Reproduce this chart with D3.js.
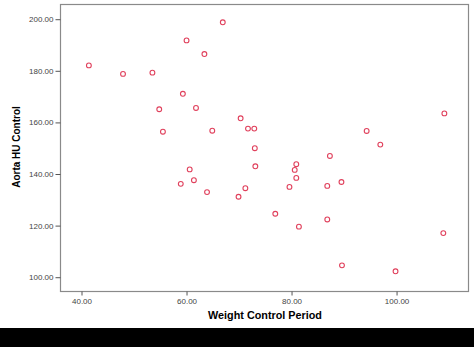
<!DOCTYPE html>
<html>
<head>
<meta charset="utf-8">
<script src="https://cdn.jsdelivr.net/npm/d3@7"></script>
<style>
	body { margin: 0; background: #fff; }
	svg { display: block; font-family: "Liberation Sans", Arial, sans-serif; }
</style>
</head>
<body>
<div id="chart"></div>
<script>
// weight control period (x) vs aorta HU control (y)
let weightPeriod = [41.5, 48.0, 53.6, 54.9, 67.0, 60.1, 63.5, 59.4, 61.9, 70.4,
	55.6, 65.0, 71.8, 73.0, 73.1, 60.7, 73.2, 81.0, 80.7, 81.0,
	59.0, 61.5, 64.0, 71.3, 70.0, 79.7, 77.0, 81.5, 109.2, 94.4,
	97.0, 87.4, 86.9, 89.6, 86.9, 109.0, 89.7, 99.9];
let aortaHU = [181.9, 178.6, 179.1, 164.9, 198.6, 191.6, 186.3, 170.9, 165.4, 161.4,
	156.2, 156.6, 157.4, 157.4, 149.8, 141.6, 142.8, 143.6, 141.4, 138.3,
	136.0, 137.4, 132.8, 134.3, 131.0, 134.8, 124.4, 119.4, 163.3, 156.5,
	151.2, 146.8, 135.2, 136.7, 122.2, 116.9, 104.4, 102.1];
let xTicks = [40, 60, 80, 100],
		yTicks = [100, 120, 140, 160, 180, 200];

let width = 474,
		height = 347,
		plot = {left: 60, top: 4, right: 468, bottom: 291},
		red = '#e0405c',
		frameGrey = '#8a8a8a';

let svg = d3.select('#chart').append('svg')
		.attr('width', width)
		.attr('height', height);

let x = d3.scaleLinear().domain([36, 113.7]).range([plot.left, plot.right]);
let y = d3.scaleLinear().domain([94.46, 205.7]).range([plot.bottom, plot.top]);

// frame
svg.append('rect')
		.attr('x', plot.left + .5)
		.attr('y', plot.top + .5)
		.attr('width', plot.right - plot.left)
		.attr('height', plot.bottom - plot.top)
		.attr('fill', '#fff')
		.attr('stroke', frameGrey)
		.attr('stroke-width', 1.2);

// axes
let xAxis = svg.append('g')
		.attr('transform', `translate(0.5,${plot.bottom + .5})`)
		.call(d3.axisBottom(x).tickValues(xTicks).tickSize(4).tickPadding(3).tickFormat(d3.format('.2f')));
let yAxis = svg.append('g')
		.attr('transform', `translate(${plot.left + .5},0.5)`)
		.call(d3.axisLeft(y).tickValues(yTicks).tickSize(5).tickPadding(2).tickFormat(d3.format('.2f')));

[xAxis, yAxis].forEach(a => {
	a.select('.domain').remove();
	a.selectAll('line').attr('stroke', '#555');
	a.selectAll('text')
			.attr('fill', '#444')
			.style('font-size', '8px');
});

// points
svg.append('g')
		.selectAll('circle')
		.data(weightPeriod)
		.enter()
		.append('circle')
		.attr('cx', d => x(d))
		.attr('cy', (d, i) => y(aortaHU[i]))
		.attr('r', 2.4)
		.attr('fill', 'none')
		.attr('stroke', red)
		.attr('stroke-width', 1.1);

// titles
svg.append('text')
		.text('Weight Control Period')
		.attr('x', 265)
		.attr('y', 319)
		.attr('text-anchor', 'middle')
		.style('font-weight', 'bold')
		.style('font-size', '10.8px');

svg.append('text')
		.text('Aorta HU Control')
		.attr('transform', 'translate(20,147) rotate(-90)')
		.attr('text-anchor', 'middle')
		.style('font-weight', 'bold')
		.style('font-size', '10px');

// black band at the bottom
svg.append('rect')
		.attr('x', 0)
		.attr('y', 328)
		.attr('width', width)
		.attr('height', height - 328)
		.attr('fill', '#000');
</script>
</body>
</html>
